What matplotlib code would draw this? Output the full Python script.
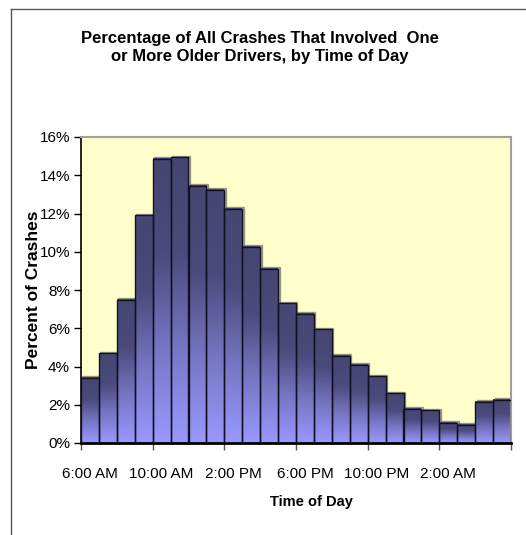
import numpy as np
import matplotlib.pyplot as plt
from matplotlib.colors import LinearSegmentedColormap

# données : pourcentage des accidents par heure (6 h -> 5 h)
heures = ['6:00 AM', '10:00 AM', '2:00 PM', '6:00 PM', '10:00 PM', '2:00 AM']
pourcentages = [3.4, 4.7, 7.5, 11.9, 14.85, 14.95, 13.45, 13.25, 12.25, 10.25, 9.1, 7.3,
                6.75, 5.95, 4.55, 4.1, 3.5, 2.6, 1.8, 1.7, 1.05, 0.95, 2.15, 2.25]
y_ticks = [0, 2, 4, 6, 8, 10, 12, 14, 16]

plt.rcParams['font.family'] = ['Liberation Sans', 'DejaVu Sans']

fig = plt.figure(figsize=(5.26, 5.35), dpi=100)
ax = fig.add_axes([81/526, 1 - 443/535, 430/526, 306/535])
ax.set_facecolor('#FFFFCC')

n = len(pourcentages)
x = np.arange(n)
barres = ax.bar(x, pourcentages, width=1.0, align='edge', color='none',
                edgecolor='#111122', linewidth=1.0, zorder=3)

# dégradé vertical dans chaque barre
degrade = LinearSegmentedColormap.from_list('deg', ['#9999FF', '#7676C4', '#4A4A7C', '#464673'])
grad = np.linspace(0, 1, 256).reshape(-1, 1)
for b in barres:
    x0, h = b.get_x(), b.get_height()
    ax.imshow(grad, cmap=degrade, extent=[x0, x0 + 1, 0, h], origin='lower',
              aspect='auto', zorder=2)
    ombre = plt.Rectangle((x0 + 0.08, 0), 1, h + 0.08, color='#555555', alpha=0.5, zorder=1.5)
    ax.add_patch(ombre)

ax.set_xlim(0, n)
ax.set_ylim(0, 16)

ax.set_yticks(y_ticks)
ax.set_yticklabels([f'{v}%' for v in y_ticks], fontsize=11)
ax.set_xticks(np.arange(0, n + 1, 4))
ax.set_xticklabels([])
ax.set_xticks(np.arange(0, n, 4) + 0.5, minor=True)
ax.set_xticklabels(heures, minor=True, fontsize=11)
ax.tick_params(axis='x', which='minor', length=0, pad=17)
ax.tick_params(axis='x', which='major', length=5, width=1, color='#555555')
ax.tick_params(axis='y', length=5, width=1, pad=3)

for cote in ['top', 'right']:
    ax.spines[cote].set_color('#A0A0A0')
    ax.spines[cote].set_linewidth(1.5)
ax.spines['left'].set_linewidth(1.2)
ax.spines['bottom'].set_linewidth(2)

fig.text(260/526, 1 - 48/535, 'Percentage of All Crashes That Involved  One\nor More Older Drivers, by Time of Day',
         ha='center', va='center', fontsize=12, fontweight='bold', linespacing=1.25)
fig.text(33.5/526, 1 - 290/535, 'Percent of Crashes', rotation=90, ha='center', va='center',
         fontsize=12.5, fontweight='bold')
fig.text(311/526, 1 - 502/535, 'Time of Day', ha='center', va='center',
         fontsize=10.5, fontweight='bold')

# cadre du graphique (haut et gauche)
fig.add_artist(plt.Line2D([11/526, 1], [1 - 9/535] * 2, color='#555555', lw=1))
fig.add_artist(plt.Line2D([11/526] * 2, [0, 1 - 9/535], color='#555555', lw=1))

fig.savefig('out.png', dpi=100)
